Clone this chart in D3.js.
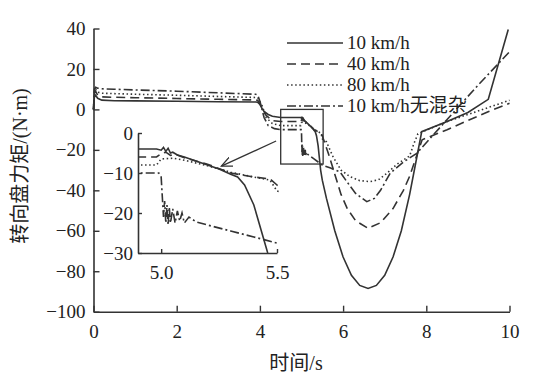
<!DOCTYPE html>
<html>
<head>
<meta charset="utf-8">
<script src="https://cdn.jsdelivr.net/npm/d3@7"></script>
<style>
  body { margin: 0; background: #fff; }
  svg text { font-family: "Liberation Serif", "DejaVu Serif", serif; }
  svg text.cjk { font-family: "Liberation Serif", "DejaVu Serif", "Noto Sans CJK SC", serif; }
</style>
</head>
<body>
<div id="chart"></div>
<script>
// ---- data ----
// 10 km/h
const t10 = [0, 0.02, 0.05, 0.1, 0.2, 0.5, 1, 2, 3, 3.9, 3.95, 4.0, 4.05, 4.1, 4.2, 4.3, 4.5, 4.98, 5.0, 5.01, 5.02, 5.03, 5.04, 5.05, 5.07, 5.1, 5.15, 5.2, 5.25, 5.3, 5.33, 5.36, 5.4, 5.43, 5.46, 5.5, 5.6, 5.8, 6.0, 6.2, 6.4, 6.6, 6.8, 7.0, 7.2, 7.4, 7.6, 7.75, 7.89, 8.5, 9.0, 9.49, 9.97];
const v10 = [0, 6, 7, 5.5, 4.6, 4.3, 4.2, 4.0, 3.8, 3.7, 3.5, 2.5, 0.5, -1, -2.5, -3.4, -4, -4, -4.3, -3.6, -4.6, -3.8, -5, -4.8, -5.5, -6, -7, -8, -9, -10.3, -11, -13, -18, -24, -30, -35, -44, -60, -73, -82, -87, -88.5, -87, -82, -73, -60, -42, -26, -11, -6, -1.5, 5, 39.5];
// 40 km/h
const t40 = [0, 0.02, 0.05, 0.1, 0.2, 0.5, 1, 2, 3, 3.9, 3.95, 4.05, 4.15, 4.3, 4.5, 4.98, 5.0, 5.02, 5.04, 5.06, 5.1, 5.2, 5.3, 5.4, 5.47, 5.5, 5.65, 5.8, 5.95, 6.1, 6.3, 6.6, 6.9, 7.2, 7.45, 7.6, 7.75, 7.9, 8.5, 9.0, 9.5, 10];
const v40 = [0, 8, 9, 7, 6.2, 6.0, 5.8, 5.4, 5.0, 4.7, 4.4, 1, -3, -5.5, -6, -6, -5.2, -4.8, -5.6, -5.3, -6.2, -7.8, -10, -11, -11.5, -13, -22, -32, -42, -49, -55, -58.8, -56, -49, -40, -33, -24, -15, -10, -5.5, -1, 3];
// 80 km/h
const t80 = [0, 0.02, 0.05, 0.1, 0.2, 0.5, 1, 2, 3, 3.9, 3.95, 4.05, 4.15, 4.3, 4.5, 4.98, 5.0, 5.05, 5.1, 5.2, 5.3, 5.4, 5.47, 5.5, 5.6, 5.76, 5.95, 6.17, 6.4, 6.65, 6.85, 7.05, 7.3, 7.6, 7.7, 7.8, 8.5, 9.0, 9.5, 10];
const v80 = [0, 9, 10, 8.5, 8, 7.8, 7.5, 7, 6.4, 5.9, 5.6, 2, -4, -7, -8, -8, -6.5, -6.3, -6.8, -8.2, -9.8, -11, -11.8, -14.5, -16, -23.5, -30, -33.3, -35.2, -35.7, -34.8, -31.6, -27, -23, -17, -12, -6, -2.5, 1, 4.5];
// 10 km/h 无混杂
const tNo = [0, 0.02, 0.05, 0.1, 0.2, 0.5, 1, 2, 3, 3.9, 3.95, 4.0, 4.05, 4.1, 4.2, 4.35, 4.5, 4.99, 5.0, 5.005, 5.01, 5.015, 5.02, 5.025, 5.03, 5.035, 5.04, 5.05, 5.06, 5.07, 5.08, 5.09, 5.1, 5.12, 5.15, 5.2, 5.3, 5.4, 5.5, 5.7, 5.93, 6.1, 6.3, 6.57, 6.75, 6.9, 7.13, 7.45, 7.77, 8.5, 9.2, 10];
const vNo = [0, 10, 11, 10.5, 10.2, 10, 9.6, 9, 8.2, 7.5, 7, 4, 0, -4, -8, -9.5, -10, -10, -11, -16, -21, -17, -22.5, -18, -23, -18.5, -22.5, -19, -22.5, -19.5, -22, -20, -22.5, -21, -22.2, -23, -24.5, -26, -27.5, -29, -31, -36, -41.5, -45.6, -44, -40, -31.6, -26, -21.7, -5, 11, 28.5];

const seriesNames = ["10 km/h", "40 km/h", "80 km/h", "10 km/h无混杂"];
const xTicks = [0, 2, 4, 6, 8, 10];
const yTicks = [40, 20, 0, -20, -40, -60, -80, -100];
const insetXTicks = [5.0, 5.5];
const insetYTicks = [0, -10, -20, -30];

// ---- layout ----
const W = 546, H = 386;
const ink = "#333";
const fmtMinus = d => String(d).replace("-", "\u2212");

const svg = d3.select("#chart").append("svg")
  .attr("width", W).attr("height", H);

const x = d3.scaleLinear().domain([0, 10]).range([93.5, 509.5]);
const y = d3.scaleLinear().domain([-100, 40]).range([311.7, 28.5]);

const series = [
  {name: seriesNames[0], t: t10, v: v10, dash: null},
  {name: seriesNames[1], t: t40, v: v40, dash: "9,5"},
  {name: seriesNames[2], t: t80, v: v80, dash: "1.5,2.6"},
  {name: seriesNames[3], t: tNo, v: vNo, dash: "9,3,2,3"}
];
series.forEach(s => s.pts = s.t.map((t, i) => [t, s.v[i]]));

// main curves
const line = d3.line().x(d => x(d[0])).y(d => y(d[1]));
svg.append("g").selectAll("path")
  .data(series).enter().append("path")
  .attr("d", d => line(d.pts))
  .attr("fill", "none")
  .attr("stroke", ink)
  .attr("stroke-width", 1.6)
  .attr("stroke-dasharray", d => d.dash);

// main axes, ticks inward
const xAxis = svg.append("g")
  .attr("transform", "translate(0," + y(-100) + ")")
  .call(d3.axisBottom(x).tickValues(xTicks).tickSizeInner(-6).tickSizeOuter(0).tickPadding(13));
const yAxis = svg.append("g")
  .attr("transform", "translate(" + x(0) + ",0)")
  .call(d3.axisLeft(y).tickValues(yTicks).tickSizeInner(-6).tickSizeOuter(0).tickPadding(8).tickFormat(fmtMinus));
[xAxis, yAxis].forEach(a => {
  a.attr("font-family", null).attr("font-size", null);
  a.select(".domain").attr("stroke", ink).attr("stroke-width", 1.6);
  a.selectAll(".tick line").attr("stroke", ink).attr("stroke-width", 1.4);
  a.selectAll("text").attr("fill", "#222").style("font-size", "19px");
});

// zoom rectangle on main plot
svg.append("rect")
  .attr("x", x(4.5)).attr("y", y(0))
  .attr("width", x(5.52) - x(4.5)).attr("height", y(-27) - y(0))
  .attr("fill", "none").attr("stroke", ink).attr("stroke-width", 1.3);

// ---- inset ----
const ix = d3.scaleLinear().domain([4.9, 5.5]).range([138, 277]);
const iy = d3.scaleLinear().domain([-30, 0]).range([253, 133]);

svg.append("rect")
  .attr("x", ix(4.9)).attr("y", iy(0))
  .attr("width", ix(5.5) - ix(4.9)).attr("height", iy(-30) - iy(0))
  .attr("fill", "#fff");

svg.append("clipPath").attr("id", "insetClip")
  .append("rect")
  .attr("x", ix(4.9)).attr("y", iy(0))
  .attr("width", ix(5.5) - ix(4.9) + 2).attr("height", iy(-30) - iy(0));

const iline = d3.line().x(d => ix(d[0])).y(d => iy(d[1]));
svg.append("g").attr("clip-path", "url(#insetClip)")
  .selectAll("path")
  .data(series).enter().append("path")
  .attr("d", d => iline(d.pts))
  .attr("fill", "none")
  .attr("stroke", ink)
  .attr("stroke-width", 1.6)
  .attr("stroke-dasharray", d => d.dash);

const ixAxis = svg.append("g")
  .attr("transform", "translate(0," + iy(-30) + ")")
  .call(d3.axisBottom(ix).tickValues(insetXTicks).tickSizeInner(-4).tickSizeOuter(0).tickPadding(13).tickFormat(d3.format(".1f")));
const iyAxis = svg.append("g")
  .attr("transform", "translate(" + ix(4.9) + ",0)")
  .call(d3.axisLeft(iy).tickValues(insetYTicks).tickSizeInner(-4).tickSizeOuter(0).tickPadding(5).tickFormat(fmtMinus));
[ixAxis, iyAxis].forEach(a => {
  a.attr("font-family", null).attr("font-size", null);
  a.select(".domain").attr("stroke", ink).attr("stroke-width", 1.6);
  a.selectAll(".tick line").attr("stroke", ink).attr("stroke-width", 1.4);
  a.selectAll("text").attr("fill", "#222").style("font-size", "19px");
});

// arrow from zoom box to inset
svg.append("defs").append("marker")
  .attr("id", "arrowHead")
  .attr("viewBox", "0 0 12 10")
  .attr("refX", 11).attr("refY", 5)
  .attr("markerWidth", 12).attr("markerHeight", 10)
  .attr("markerUnits", "userSpaceOnUse")
  .attr("orient", "auto")
  .append("path")
  .attr("d", "M0,0 L11,5 L0,10")
  .attr("fill", "none").attr("stroke", ink).attr("stroke-width", 1.3);

svg.append("line")
  .attr("x1", x(4.39)).attr("y1", y(-15.6))
  .attr("x2", ix(5.26)).attr("y2", iy(-8.3))
  .attr("stroke", ink).attr("stroke-width", 1.3)
  .attr("marker-end", "url(#arrowHead)");

// ---- legend ----
const legend = svg.append("g").attr("transform", "translate(287,43)");
const rows = legend.selectAll("g").data(series).enter().append("g")
  .attr("transform", (d, i) => "translate(0," + (i * 21) + ")");
rows.append("line")
  .attr("x1", 0).attr("x2", 56).attr("y1", 0).attr("y2", 0)
  .attr("stroke", ink).attr("stroke-width", 1.6)
  .attr("stroke-dasharray", d => d.dash);
rows.append("text")
  .attr("class", "cjk")
  .attr("x", 60).attr("y", 6)
  .attr("fill", "#222")
  .style("font-size", "19px")
  .text(d => d.name);

// ---- axis titles ----
svg.append("text")
  .attr("class", "cjk")
  .attr("transform", "translate(27,166) rotate(-90)")
  .attr("text-anchor", "middle")
  .attr("fill", "#222")
  .style("font-size", "20px")
  .text("转向盘力矩/(N·m)");

svg.append("text")
  .attr("class", "cjk")
  .attr("x", 296).attr("y", 370)
  .attr("text-anchor", "middle")
  .attr("fill", "#222")
  .style("font-size", "20px")
  .text("时间/s");
</script>
</body>
</html>
